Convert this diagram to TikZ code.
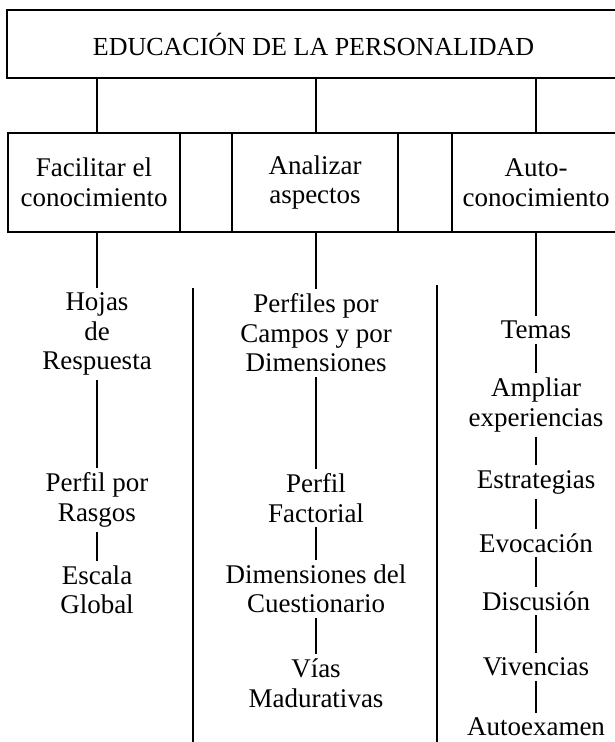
\documentclass[tikz,border=0pt]{standalone}
\usepackage{fontspec}
\setmainfont{Liberation Serif}
\begin{document}
\begin{tikzpicture}[x=1pt,y=-1pt,line width=1.8pt]
  \tikzstyle{every node}=[align=center,inner sep=4pt,font=\fontsize{27}{29.5}\selectfont]
  \tikzstyle{caja}=[draw,inner sep=0pt,minimum height=99pt]
  \useasboundingbox (0,0) rectangle (614,742);
  % cabecera
  \node[caja,minimum width=613pt,minimum height=68pt,font=\fontsize{26}{28}\selectfont] (titulo) at (313.5,44) {EDUCACIÓN DE LA PERSONALIDAD};
  % fila de cajas
  \node[caja,minimum width=172pt] (facil) at (94,182.5) {Facilitar el\\conocimiento};
  \node[caja,minimum width=52pt] (hueco1) at (206,182.5) {};
  \node[caja,minimum width=166pt] (analiz) at (315,182.5) {Analizar\\aspectos};
  \node[caja,minimum width=54pt] (hueco2) at (425,182.5) {};
  \node[caja,minimum width=168pt] (autoc) at (536,182.5) {Auto-\\conocimiento};
  % primera columna
  \node (hojas) at (97,334) {Hojas\\de\\Respuesta};
  \node (rasgos) at (97,500) {Perfil por\\Rasgos};
  \node (escala) at (97,590) {Escala\\Global};
  % segunda columna
  \node (perfiles) at (316,333) {Perfiles por\\Campos y por\\Dimensiones};
  \node (factorial) at (316,498) {Perfil\\Factorial};
  \node (dimens) at (316,589) {Dimensiones del\\Cuestionario};
  \node (vias) at (316,683) {Vías\\Madurativas};
  % tercera columna
  \node (temas) at (536,330) {Temas};
  \node (ampliar) at (536,405) {Ampliar\\experiencias};
  \node (estrat) at (536,482) {Estrategias};
  \node (evoc) at (536,543) {Evocación};
  \node (discus) at (536,601) {Discusión};
  \node (viven) at (536,667) {Vivencias};
  \node (autoex) at (536,727) {Autoexamen};
  % conexiones
  \draw (titulo.south -| hojas) -- (facil.north -| hojas);
  \draw (titulo.south -| perfiles) -- (analiz.north -| perfiles);
  \draw (titulo.south -| temas) -- (autoc.north -| temas);
  \draw (facil.south -| hojas) -- (hojas);
  \draw (analiz.south -| perfiles) -- (perfiles);
  \draw (autoc.south -| temas) -- (temas);
  \draw (hojas) -- (rasgos) -- (escala);
  \draw (perfiles) -- (factorial) -- (dimens) -- (vias);
  \draw (temas) -- (ampliar) -- (estrat) -- (evoc) -- (discus) -- (viven) -- (autoex);
  % separadores de columnas
  \draw (193,288) -- (193,742);
  \draw (437,285) -- (437,742);
\end{tikzpicture}
\end{document}
